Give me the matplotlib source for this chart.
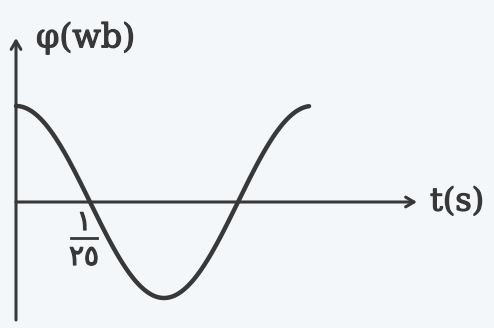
import numpy as np
import matplotlib
matplotlib.use('Agg')
import matplotlib.pyplot as plt
import matplotlib.patheffects as pe

# values
quarter_period = 1 / 25          # s, the marked tick "۱/۲٥"
period = 4 * quarter_period      # one full cycle is drawn
phi_max = 1.0                    # peak flux (no value printed, unit height)
tick_num = '۱'
tick_den = '۲٥'
x_label = 't(s)'
y_label = 'φ(wb)'

# layout: pixel geometry of the scan mapped to data units
W, H = 494, 328
x0_px, y0_px = 16, 202
px_per_s = 296 / period
px_per_unit = 96
ink = '#383838'
thick = [pe.withStroke(linewidth=0.9, foreground=ink)]

fig = plt.figure(figsize=(W / 100, H / 100), dpi=100)
fig.patch.set_facecolor('#f4f7fa')
ax = fig.add_axes([0, 0, 1, 1])
ax.set_facecolor('#f4f7fa')
ax.set_xlim(-x0_px / px_per_s, (W - x0_px) / px_per_s)
ax.set_ylim(-(H - y0_px) / px_per_unit, y0_px / px_per_unit)
ax.axis('off')

# flux curve
t = np.linspace(0, period * 0.99, 400)
phi = phi_max * np.cos(2 * np.pi * t / period)
ax.plot(t, phi, color=ink, lw=3.2, solid_capstyle='round')

# axes with open arrow heads
arrow = dict(arrowstyle='->,head_length=0.6,head_width=0.35', color=ink, lw=2.2,
             shrinkA=0, shrinkB=0)
ax.annotate('', xy=(401 / px_per_s, 0), xytext=(0, 0), arrowprops=arrow)
ax.annotate('', xy=(0, 164 / px_per_unit), xytext=(0, -118 / px_per_unit), arrowprops=arrow)

# axis names
ax.text(20 / px_per_s, 164 / px_per_unit, y_label, fontsize=24, family='DejaVu Serif',
        color=ink, ha='left', va='center', path_effects=thick)
ax.text(414 / px_per_s, 0, x_label, fontsize=23, family='DejaVu Serif',
        color=ink, ha='left', va='center', path_effects=thick)

# fraction label under the first zero crossing
xc = quarter_period - 6 / px_per_s
ax.text(xc, -20 / px_per_unit, tick_num, fontsize=20, family='DejaVu Sans',
        color=ink, ha='center', va='center', path_effects=thick)
ax.plot([xc - 13 / px_per_s, xc + 13 / px_per_s], [-36 / px_per_unit] * 2, color=ink, lw=2.0)
ax.text(xc, -55 / px_per_unit, tick_den, fontsize=20, family='DejaVu Sans',
        color=ink, ha='center', va='center', path_effects=thick)

fig.savefig('out.png', dpi=100, facecolor=fig.get_facecolor())
